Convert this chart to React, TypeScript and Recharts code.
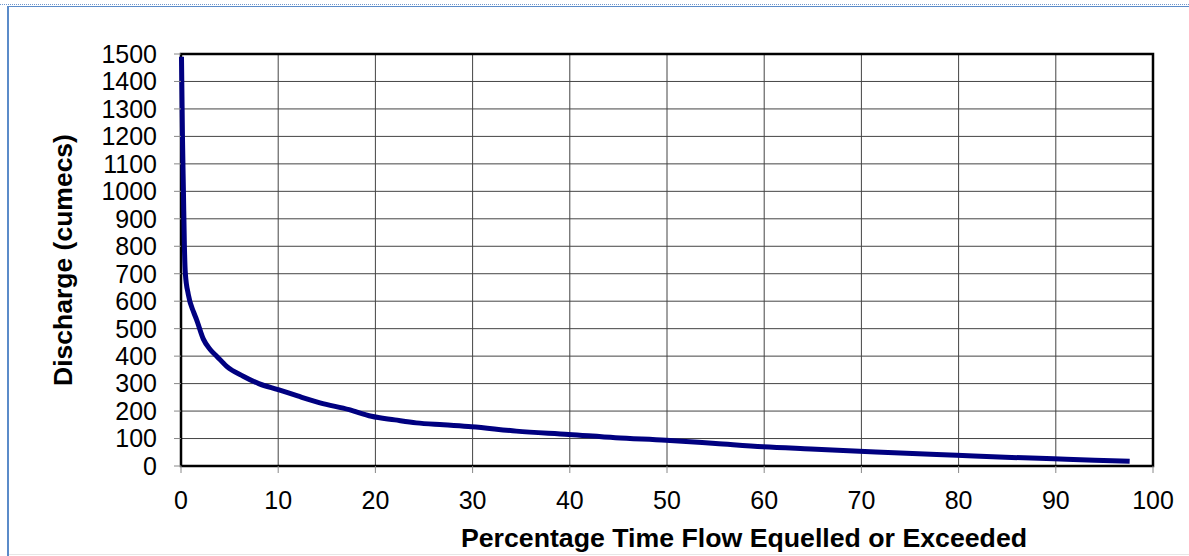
import { LineChart, Line, XAxis, YAxis, CartesianGrid, ReferenceArea, Label } from 'recharts';

const percentTime = [0.05, 0.15, 0.25, 0.35, 0.45, 0.75, 1.3, 1.6, 2.3, 3.0, 3.7, 4.7, 6.4, 8, 10, 12, 14.3, 17.3, 19.6, 22, 24.2, 27, 29.9, 34.5, 39.9, 44.7, 49.9, 55, 59.9, 64.8, 69.8, 74, 79.8, 84.8, 89.8, 94, 97.6];
const discharge = [1490, 1200, 1000, 800, 700, 625, 560, 533, 462, 424, 399, 363, 327, 300, 278, 255, 230, 205, 181, 168, 157, 150, 143, 127, 115, 103, 94, 82, 70, 62, 54, 47, 39, 32, 26, 21, 17];

const xTicks = [0, 10, 20, 30, 40, 50, 60, 70, 80, 90, 100];
const yTicks = [0, 100, 200, 300, 400, 500, 600, 700, 800, 900, 1000, 1100, 1200, 1300, 1400, 1500];

const data = percentTime.map((p, i) => ({ pct: p, q: discharge[i] }));

const font = '"Liberation Sans", Arial, sans-serif';
const tickStyle = { fill: '#000', fontSize: 25, fontFamily: font };

const YTitle = ({ viewBox }: any) => {
  const x = viewBox.x + 72;
  const y = viewBox.y + viewBox.height / 2;
  return (
    <text x={x} y={y} transform={`rotate(-90 ${x} ${y})`} textAnchor="middle" fontSize={26.5} fontWeight="bold" fontFamily={font} fill="#000">
      Discharge (cumecs)
    </text>
  );
};

const XTitle = ({ viewBox }: any) => {
  const x = viewBox.x + viewBox.width / 2 + 77;
  const y = viewBox.y + 81;
  return (
    <text x={x} y={y} textAnchor="middle" fontSize={26.7} fontWeight="bold" fontFamily={font} fill="#000">
      Percentage Time Flow Equelled or Exceeded
    </text>
  );
};

export default function App() {
  return (
    <div style={{ position: 'absolute', left: 0, top: 0, width: 1189, height: 556, background: '#fff' }}>
      {/* frame */}
      <div style={{ position: 'absolute', left: 0, top: 4, width: 1189, borderTop: '1px dotted #6f97cf' }} />
      <div style={{ position: 'absolute', left: 8, top: 6, width: 1181, borderTop: '1px solid #5b8bc9' }} />
      <div style={{ position: 'absolute', left: 7, top: 6, height: 550, borderLeft: '2px solid #5b8bc9' }} />
      <div style={{ position: 'absolute', left: 9, top: 554, width: 1180, borderTop: '1px solid #e6e6e6' }} />
      <LineChart width={1189} height={556} data={data} margin={{ top: 54, right: 36, left: 0, bottom: 0 }}>
        <CartesianGrid stroke="#444" strokeWidth={1} />
        <XAxis
          dataKey="pct"
          type="number"
          domain={[0, 100]}
          ticks={xTicks}
          interval={0}
          height={90}
          axisLine={false}
          tickLine={{ stroke: '#888' }}
          tickSize={7}
          tickMargin={18}
          tick={tickStyle}
        >
          <Label content={<XTitle />} />
        </XAxis>
        <YAxis
          type="number"
          domain={[0, 1500]}
          ticks={yTicks}
          interval={0}
          width={181}
          axisLine={false}
          tickLine={{ stroke: '#888' }}
          tickSize={7}
          tickMargin={17}
          tick={tickStyle}
        >
          <Label content={<YTitle />} />
        </YAxis>
        <ReferenceArea x1={0} x2={100} y1={0} y2={1500} fill="none" stroke="#000" strokeWidth={2.5} ifOverflow="visible" />
        <Line type="monotone" dataKey="q" stroke="#000080" strokeWidth={5} dot={false} isAnimationActive={false} />
      </LineChart>
    </div>
  );
}
